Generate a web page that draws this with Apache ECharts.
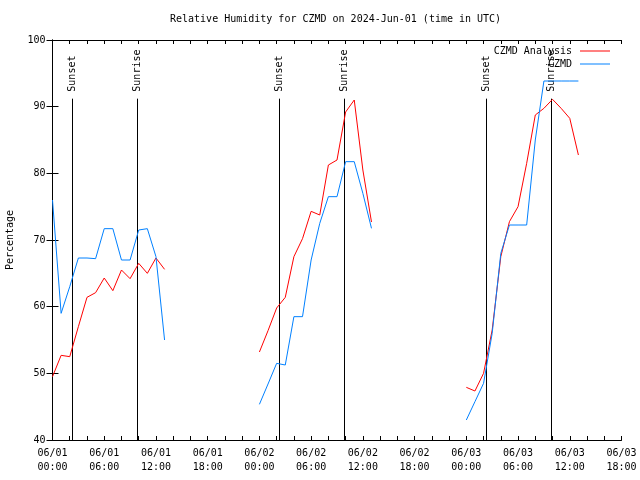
<!DOCTYPE html>
<html>
<head>
<meta charset="utf-8">
<script src="https://cdn.jsdelivr.net/npm/echarts@6/dist/echarts.min.js"></script>
<style>
html,body{margin:0;padding:0;background:#fff;}
#chart{width:640px;height:480px;}
</style>
</head>
<body>
<div id="chart"></div>
<script>
// Hours since 2024-06-01 00:00 UTC
var hoursDay1 = [0,1,2,3,4,5,6,7,8,9,10,11,12,13];
var hoursDay2 = [24,25,26,27,28,29,30,31,32,33,34,35,36,37];
var hoursDay3 = [48,49,50,51,52,53,54,55,56,57,58,59,60,61];

var analysisDay1 = [49.5,52.7,52.5,57,61.4,62.1,64.3,62.4,65.5,64.2,66.5,65,67.3,65.6];
var analysisDay2 = [53.2,56.4,59.8,61.4,67.5,70.2,74.3,73.75,81.25,82,89.2,91,80.5,72.7];
var analysisDay3 = [47.9,47.35,50,56.5,67.5,72.75,75,81.5,88.75,89.75,91.1,89.75,88.25,82.75];

var obsDay1 = [76,59,63,67.3,67.3,67.2,71.7,71.7,67,67,71.5,71.7,67.5,55];
var obsDay2 = [45.35,48.4,51.5,51.25,58.5,58.5,67,72.5,76.5,76.5,81.75,81.75,77,71.75];
var obsDay3 = [43,45.75,48.5,56,68,72.25,72.25,72.25,85,93.85,93.85,93.85,93.85,93.85];

var eventHours = [2.3, 9.85, 26.3, 33.85, 50.3, 57.85];
var eventLabels = ['Sunset','Sunrise','Sunset','Sunrise','Sunset','Sunrise'];
var eventLineTop = 91.2;

var yTicks = [40,50,60,70,80,90,100];
var seriesNames = ['CZMD Analysis','CZMD'];

function buildSeg(hoursList, valuesList){
  var out = [];
  for (var d = 0; d < hoursList.length; d++){
    if (d > 0) out.push([hoursList[d][0] - 1, '-']);
    for (var i = 0; i < hoursList[d].length; i++){
      out.push([hoursList[d][i], valuesList[d][i]]);
    }
  }
  return out;
}
var hoursAll = [hoursDay1, hoursDay2, hoursDay3];
var redData = buildSeg(hoursAll, [analysisDay1, analysisDay2, analysisDay3]);
var blueData = buildSeg(hoursAll, [obsDay1, obsDay2, obsDay3]);

function pad(n){ return (n < 10 ? '0' : '') + n; }
function fmtHour(v){
  var day = 1 + Math.floor(v / 24);
  var hh = v % 24;
  return '06/' + pad(day) + '\n' + pad(hh) + ':00';
}

var FONT = 'DejaVu Sans Mono';
var chart = echarts.init(document.getElementById('chart'), null, {renderer:'canvas'});
var option = {
  animation: false,
  backgroundColor: '#ffffff',
  title: {
    text: 'Relative Humidity for CZMD on 2024-Jun-01 (time in UTC)',
    left: 165, top: 9,
    textStyle: {fontFamily: FONT, fontSize: 10, fontWeight: 'normal', color: '#000'}
  },
  legend: {
    data: seriesNames,
    orient: 'vertical',
    right: 25, top: 41,
    align: 'right',
    itemGap: 3,
    itemWidth: 30, itemHeight: 12,
    icon: 'path://M0,6 L30,6 L30,7 L0,7 Z',
    textStyle: {fontFamily: FONT, fontSize: 10, color: '#000', padding: [0,3,0,0]},
    itemStyle: {borderWidth: 0}
  },
  grid: {left: 52.5, right: 18.5, top: 40, bottom: 40, containLabel: false, outerBoundsMode: 'none'},
  xAxis: [{
    type: 'value', min: 0, max: 66, interval: 6,
    axisLine: {show: true, lineStyle: {color: '#000', width: 1}},
    axisTick: {show: true, inside: true, length: 4, lineStyle: {color: '#000'}},
    minorTick: {show: true, splitNumber: 3, length: 4, lineStyle: {color: '#000'}},
    splitLine: {show: false},
    axisLabel: {fontFamily: FONT, fontSize: 10, color: '#000', margin: 6, lineHeight: 14, formatter: fmtHour}
  },{
    type: 'value', min: 0, max: 66, interval: 6, position: 'top',
    axisLine: {show: true, lineStyle: {color: '#000', width: 1}},
    axisTick: {show: true, inside: true, length: 4, lineStyle: {color: '#000'}},
    minorTick: {show: true, splitNumber: 3, length: 4, lineStyle: {color: '#000'}},
    splitLine: {show: false},
    axisLabel: {show: false}
  }],
  yAxis: [{
    type: 'value', min: yTicks[0], max: yTicks[yTicks.length-1], interval: 10,
    name: 'Percentage', nameLocation: 'middle', nameGap: 37, nameRotate: 90,
    nameTextStyle: {fontFamily: FONT, fontSize: 10, color: '#000'},
    axisLine: {show: true, lineStyle: {color: '#000', width: 1}},
    axisTick: {show: true, inside: true, length: 6, lineStyle: {color: '#000'}},
    splitLine: {show: false},
    axisLabel: {fontFamily: FONT, fontSize: 10, color: '#000', margin: 7}
  },{
    type: 'value', min: yTicks[0], max: yTicks[yTicks.length-1], interval: 10, position: 'right',
    axisLine: {show: true, lineStyle: {color: '#000', width: 1}},
    axisTick: {show: true, inside: true, length: 6, lineStyle: {color: '#000'}},
    splitLine: {show: false},
    axisLabel: {show: false}
  }],
  series: [{
    name: seriesNames[0], type: 'line', data: redData,
    showSymbol: false, symbol: 'none', connectNulls: false,
    lineStyle: {color: '#ff0000', width: 1}, itemStyle: {color: '#ff0000'}
  },{
    name: seriesNames[1], type: 'line', data: blueData,
    showSymbol: false, symbol: 'none', connectNulls: false,
    lineStyle: {color: '#0080ff', width: 1}, itemStyle: {color: '#0080ff'}
  },{
    name: 'events', type: 'custom', clip: false, silent: true,
    data: eventHours.map(function(h){ return [h]; }),
    renderItem: function(params, api){
      var h = api.value(0);
      var p0 = api.coord([h, 40]);
      var p1 = api.coord([h, eventLineTop]);
      var x = Math.round(p0[0]) + 0.5;
      return {
        type: 'group',
        children: [{
          type: 'line',
          shape: {x1: x, y1: p0[1], x2: x, y2: p1[1]},
          style: {stroke: '#000', lineWidth: 1}
        },{
          type: 'text',
          x: x, y: p1[1] - 7,
          rotation: Math.PI / 2,
          style: {text: eventLabels[params.dataIndex], fontFamily: FONT, fontSize: 10, fill: '#000', align: 'left', verticalAlign: 'middle'}
        }]
      };
    }
  }]
};
chart.setOption(option);
</script>
</body>
</html>
